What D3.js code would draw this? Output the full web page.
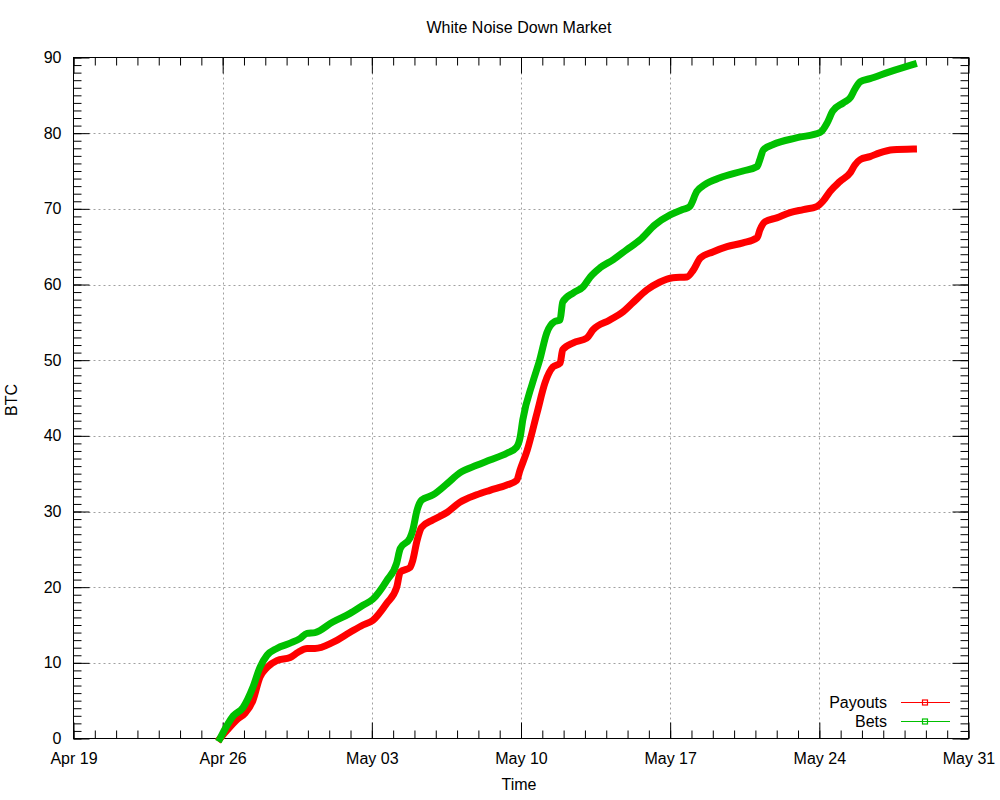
<!DOCTYPE html>
<html><head><meta charset="utf-8">
<script src="https://cdn.jsdelivr.net/npm/d3@7"></script>
<style>
body{margin:0;background:#fff}
text{font-family:"Liberation Sans",Arial,sans-serif;font-size:16px;fill:#000}
</style>
</head><body>
<svg id="chart" width="1000" height="800"></svg>
<script>
// ---- data ----
const chartTitle = "White Noise Down Market";
const xTitle = "Time";
const yTitle = "BTC";
const seriesNames = ["Payouts", "Bets"];
const xDomain = ["2013-04-19 00:00", "2013-05-31 00:00"];
const xTickLabels = ["Apr 19","Apr 26","May 03","May 10","May 17","May 24","May 31"];
const yTickValues = [0,10,20,30,40,50,60,70,80,90];

const betTimes = ["2013-04-25 21:00","2013-04-26 12:00","2013-04-26 23:00","2013-04-27 10:00","2013-04-27 18:00",
"2013-04-28 02:00","2013-04-28 13:00","2013-04-29 04:00","2013-04-29 15:00","2013-04-29 23:00","2013-04-30 08:00",
"2013-05-01 04:00","2013-05-01 23:00","2013-05-02 14:00","2013-05-03 01:00","2013-05-03 17:00","2013-05-04 04:00",
"2013-05-04 08:00","2013-05-04 19:00","2013-05-04 22:00","2013-05-05 03:00","2013-05-05 08:00","2013-05-05 21:00",
"2013-05-06 13:00","2013-05-07 03:00","2013-05-07 22:00","2013-05-08 13:00","2013-05-09 08:00","2013-05-09 19:00",
"2013-05-09 23:00","2013-05-10 02:00","2013-05-10 13:00","2013-05-10 21:00","2013-05-11 05:00","2013-05-11 14:00",
"2013-05-11 20:00","2013-05-11 23:00","2013-05-12 11:00","2013-05-12 22:00","2013-05-13 06:00","2013-05-13 17:00",
"2013-05-14 08:00","2013-05-14 23:00","2013-05-15 14:00","2013-05-16 07:00","2013-05-17 00:00","2013-05-17 14:00",
"2013-05-17 22:00","2013-05-18 06:00","2013-05-18 15:00","2013-05-19 08:00","2013-05-20 10:00","2013-05-21 02:00",
"2013-05-21 05:00","2013-05-21 09:00","2013-05-21 20:00","2013-05-22 23:00","2013-05-24 01:00","2013-05-24 09:00",
"2013-05-24 15:00","2013-05-25 03:00","2013-05-25 11:00","2013-05-25 16:00","2013-05-25 22:00","2013-05-26 09:00",
"2013-05-27 07:00","2013-05-28 10:00"];
const betValues = [0,3.0,4.1,6.75,9.4,
11.0,11.9,12.6,13.2,13.9,14.0,
15.4,16.5,17.6,18.4,20.9,23.2,
25.1,26.5,27.5,30.2,31.5,32.2,
33.7,35.1,36.1,36.8,37.7,38.5,
39.8,42.1,47.0,50.0,53.6,55.1,
55.3,57.7,58.9,59.7,61.0,62.2,
63.3,64.6,65.9,67.9,69.2,69.9,
70.3,72.3,73.2,74.1,75.0,75.6,
76.5,77.8,78.5,79.4,80.1,81.4,
82.9,84.0,84.7,85.8,86.8,87.2,
88.1,89.1];

const payoutTimes = ["2013-04-25 21:00","2013-04-26 05:00","2013-04-26 17:00","2013-04-27 01:00","2013-04-27 10:00",
"2013-04-27 18:00","2013-04-28 02:00","2013-04-28 13:00","2013-04-29 04:00","2013-04-29 13:00","2013-04-29 23:00",
"2013-04-30 08:00","2013-05-01 04:00","2013-05-01 23:00","2013-05-02 14:00","2013-05-03 01:00","2013-05-03 17:00",
"2013-05-04 04:00","2013-05-04 08:00","2013-05-04 19:00","2013-05-04 22:00","2013-05-05 03:00","2013-05-05 08:00",
"2013-05-05 21:00","2013-05-06 13:00","2013-05-07 03:00","2013-05-07 22:00","2013-05-08 13:00","2013-05-09 08:00",
"2013-05-09 19:00","2013-05-09 23:00","2013-05-10 07:00","2013-05-10 18:00","2013-05-11 03:00","2013-05-11 12:00",
"2013-05-11 20:00","2013-05-11 23:00","2013-05-12 11:00","2013-05-13 02:00","2013-05-13 09:00","2013-05-14 04:00",
"2013-05-14 19:00","2013-05-15 06:00","2013-05-15 22:00","2013-05-16 12:00","2013-05-17 03:00","2013-05-17 19:00",
"2013-05-18 02:00","2013-05-18 10:00","2013-05-19 00:00","2013-05-19 16:00","2013-05-20 10:00","2013-05-21 02:00",
"2013-05-21 05:00","2013-05-21 11:00","2013-05-22 00:00","2013-05-22 15:00","2013-05-23 06:00","2013-05-23 21:00",
"2013-05-24 04:00","2013-05-24 12:00","2013-05-24 23:00","2013-05-25 11:00","2013-05-25 16:00","2013-05-25 22:00",
"2013-05-26 09:00","2013-05-26 20:00","2013-05-27 11:00","2013-05-28 10:00"];
const payoutValues = [0,1.1,2.6,3.3,5.0,
8.1,9.4,10.3,10.7,11.4,11.9,
11.9,12.7,14.0,15.0,15.6,17.9,
20.0,22.0,22.6,23.5,26.2,27.9,
28.9,29.9,31.2,32.2,32.8,33.5,
34.1,35.5,38.1,43.0,47.0,49.1,
49.6,51.4,52.3,52.9,54.0,55.3,
56.4,57.6,59.3,60.3,60.9,61.0,
61.9,63.5,64.3,65.0,65.5,66.2,
67.2,68.3,68.8,69.5,69.9,70.3,
71.0,72.3,73.6,74.8,75.8,76.5,
76.9,77.4,77.8,77.9];

const seriesColors = ["#ff0000", "#00c000"];

// ---- drawing ----
const parse = d3.timeParse("%Y-%m-%d %H:%M");
const svg = d3.select("#chart");
const L = 73.5, R = 968.5, T = 57.5, B = 738.5;

const x = d3.scaleTime().domain(xDomain.map(parse)).range([L, R]);
const y = d3.scaleLinear().domain([0, 90]).range([B, T]);

const majorX = d3.timeDay.every(7).range(x.domain()[0], d3.timeDay.offset(x.domain()[1], 1));
const majorXDates = d3.range(xTickLabels.length).map(i => d3.timeDay.offset(x.domain()[0], i * 7));
const minorXDates = d3.timeDay.range(x.domain()[0], d3.timeDay.offset(x.domain()[1], 1));
const minorY = d3.range(0, 91, 1);

// grid
const grid = svg.append("g").attr("stroke", "#a0a0a0").attr("stroke-width", 1).attr("stroke-dasharray", "2,3");
grid.selectAll("line.gx").data(majorXDates.slice(1, -1)).join("line")
  .attr("x1", d => Math.round(x(d)) + 0.5).attr("x2", d => Math.round(x(d)) + 0.5)
  .attr("y1", T).attr("y2", B);
grid.selectAll("line.gy").data(yTickValues.slice(1, -1)).join("line")
  .attr("x1", L).attr("x2", R)
  .attr("y1", d => Math.round(y(d)) + 0.5).attr("y2", d => Math.round(y(d)) + 0.5);

function styleAxis(g) {
  g.select(".domain").remove();
  g.selectAll(".tick line").attr("stroke", "#000").attr("stroke-width", 1);
  g.selectAll("text").style("font-family", '"Liberation Sans",Arial,sans-serif').style("font-size", "16px").attr("fill", "#000");
}

const fmtIdx = d => xTickLabels[Math.round((d - x.domain()[0]) / (7 * 864e5))];

// bottom major
svg.append("g").attr("transform", `translate(0,${B})`)
  .call(d3.axisBottom(x).tickValues(majorXDates).tickFormat(fmtIdx).tickSizeInner(-16).tickSizeOuter(0).tickPadding(14))
  .call(styleAxis);
// bottom minor
svg.append("g").attr("transform", `translate(0,${B})`)
  .call(d3.axisBottom(x).tickValues(minorXDates).tickFormat("").tickSizeInner(-8).tickSizeOuter(0))
  .call(styleAxis);
// top major/minor
svg.append("g").attr("transform", `translate(0,${T})`)
  .call(d3.axisTop(x).tickValues(majorXDates).tickFormat("").tickSizeInner(-16).tickSizeOuter(0))
  .call(styleAxis);
svg.append("g").attr("transform", `translate(0,${T})`)
  .call(d3.axisTop(x).tickValues(minorXDates).tickFormat("").tickSizeInner(-8).tickSizeOuter(0))
  .call(styleAxis);
// left
svg.append("g").attr("transform", `translate(${L},0)`)
  .call(d3.axisLeft(y).tickValues(yTickValues).tickFormat(d3.format("d")).tickSizeInner(-16).tickSizeOuter(0).tickPadding(12))
  .call(styleAxis);
svg.append("g").attr("transform", `translate(${L},0)`)
  .call(d3.axisLeft(y).tickValues(minorY).tickFormat("").tickSizeInner(-8).tickSizeOuter(0))
  .call(styleAxis);
// right
svg.append("g").attr("transform", `translate(${R},0)`)
  .call(d3.axisRight(y).tickValues(yTickValues).tickFormat("").tickSizeInner(-16).tickSizeOuter(0))
  .call(styleAxis);
svg.append("g").attr("transform", `translate(${R},0)`)
  .call(d3.axisRight(y).tickValues(minorY).tickFormat("").tickSizeInner(-8).tickSizeOuter(0))
  .call(styleAxis);

// frame
svg.append("rect").attr("x", L).attr("y", T).attr("width", R - L).attr("height", B - T)
  .attr("fill", "none").attr("stroke", "#000").attr("stroke-width", 1);

// series
const payouts = payoutTimes.map((t, i) => ({t: parse(t), v: payoutValues[i]}));
const bets = betTimes.map((t, i) => ({t: parse(t), v: betValues[i]}));
const line = d3.line().x(d => x(d.t)).y(d => y(d.v)).curve(d3.curveMonotoneX);

[payouts, bets].forEach((s, i) => {
  svg.append("path").datum(s).attr("d", line)
    .attr("fill", "none").attr("stroke", seriesColors[i])
    .attr("stroke-width", 7).attr("stroke-linejoin", "round").attr("stroke-linecap", "square");
});

// legend
const legend = svg.append("g");
seriesNames.forEach((name, i) => {
  const ly = 702.5 + i * 19;
  legend.append("text").attr("x", 887).attr("y", ly).attr("dy", "0.36em").attr("text-anchor", "end").text(name);
  legend.append("line").attr("x1", 901).attr("x2", 950).attr("y1", ly).attr("y2", ly)
    .attr("stroke", seriesColors[i]).attr("stroke-width", 1.2);
  legend.append("rect").attr("x", 922.5).attr("y", ly - 2.5).attr("width", 5).attr("height", 5)
    .attr("fill", "none").attr("stroke", seriesColors[i]).attr("stroke-width", 1.2);
});

// titles
svg.append("text").attr("x", 519).attr("y", 33).attr("text-anchor", "middle").text(chartTitle);
svg.append("text").attr("x", 519).attr("y", 790).attr("text-anchor", "middle").text(xTitle);
svg.append("text").attr("transform", "translate(17,400) rotate(-90)").attr("text-anchor", "middle").text(yTitle);
</script>
</body></html>
